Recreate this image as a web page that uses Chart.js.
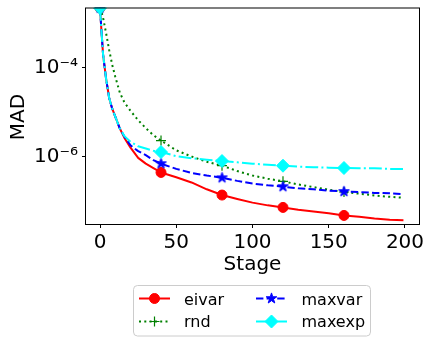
<!DOCTYPE html>
<html><head><meta charset="utf-8">
<script src="https://cdn.jsdelivr.net/npm/chart.js@4.4.0/dist/chart.umd.min.js"></script>
<style>html,body{margin:0;padding:0;background:#fff;} canvas{display:block;}</style>
</head><body>
<canvas id="c" width="432" height="343"></canvas>
<script>
// ---- data ----
const stages = [0,1,2,4,6,8,10,13,16,20,25,30,35,40,50,60,70,80,90,100,110,120,130,140,150,160,170,180,190,199];
const eivar  = [2.24e-3,6.3e-4,2.0e-4,5.6e-5,2.09e-5,1.2e-5,7.9e-6,4.27e-6,
                2.63e-6,1.58e-6,9.3e-7,6.9e-7,5.5e-7,4.37e-7,3.39e-7,2.6e-7,1.82e-7,1.35e-7,1.1e-7,9.1e-8,7.9e-8,7.1e-8,6.3e-8,5.75e-8,5.25e-8,4.68e-8,4.37e-8,3.98e-8,3.72e-8,3.63e-8];
const rnd    = [2.24e-3,1.78e-3,1.35e-3,6.0e-4,2.51e-4,1.17e-4,6.3e-5,2.75e-5,
                1.66e-5,1.07e-5,6.6e-6,4.37e-6,3.02e-6,2.29e-6,1.38e-6,1.0e-6,7.6e-7,6.2e-7,4.7e-7,3.72e-7,3.16e-7,2.75e-7,2.34e-7,2.04e-7,1.78e-7,1.58e-7,1.45e-7,1.32e-7,1.23e-7,1.17e-7];
const maxvar = [2.24e-3,6.3e-4,2.0e-4,5.6e-5,2.09e-5,1.2e-5,7.9e-6,4.27e-6,
                2.82e-6,1.78e-6,1.32e-6,1.07e-6,8.3e-7,6.9e-7,5.25e-7,4.27e-7,3.72e-7,3.31e-7,2.82e-7,2.45e-7,2.24e-7,2.09e-7,1.91e-7,1.82e-7,1.7e-7,1.62e-7,1.58e-7,1.51e-7,1.48e-7,1.41e-7];
const maxexp = [2.24e-3,6.3e-4,2.0e-4,5.6e-5,2.09e-5,1.2e-5,7.9e-6,4.27e-6,
                2.88e-6,2.14e-6,1.7e-6,1.51e-6,1.35e-6,1.26e-6,1.02e-6,9.1e-7,8.5e-7,7.9e-7,7.4e-7,6.9e-7,6.5e-7,6.2e-7,5.9e-7,5.75e-7,5.6e-7,5.5e-7,5.4e-7,5.4e-7,5.25e-7,5.25e-7];
const markerStages = [0,40,80,120,160];
const seriesNames = ['eivar','rnd','maxvar','maxexp'];
const xTickValues = [0,50,100,150,200];
const yTickValues = [1e-6,1e-4];
const yTickLabels = ['10\u207B\u2076','10\u207B\u2074'];
const xTitle = 'Stage';
const yTitle = 'MAD';

// ---- styling ----
const FONT = 'DejaVu Sans';
function makeStar(color, rOut){
  const s = Math.ceil(rOut*2+3);
  const cv = document.createElement('canvas'); cv.width = s; cv.height = s;
  const c = cv.getContext('2d');
  const cx = s/2, cy = s/2, rIn = rOut*0.381966;
  c.beginPath();
  for (let i=0;i<10;i++){
    const r = i%2===0 ? rOut : rIn;
    const a = -Math.PI/2 + i*Math.PI/5;
    const px = cx + r*Math.cos(a), py = cy + r*Math.sin(a);
    if(i===0) c.moveTo(px,py); else c.lineTo(px,py);
  }
  c.closePath(); c.fillStyle = color; c.fill();
  c.lineWidth = 1; c.strokeStyle = color; c.lineJoin='miter'; c.stroke();
  return cv;
}
const starImg = makeStar('#0000ff', 5.6);
const mk = r => ctx => (ctx.raw && markerStages.includes(ctx.raw.x)) ? r : 0;
const pts = vals => stages.map((s,i)=>({x:s,y:vals[i]}));

const styles = {
  eivar:  {color:'#ff0000', dash:[], marker:'circle', r:5},
  rnd:    {color:'#008000', dash:[2,3.3], marker:'cross', r:5},
  maxvar: {color:'#0000ff', dash:[7.4,3.2], marker:starImg, r:6},
  maxexp: {color:'#00ffff', dash:[12.8,3.2,2,3.2], marker:'rectRot', r:6.5}
};
const seriesData = {eivar, rnd, maxvar, maxexp};

const datasets = seriesNames.map((n,i)=>({
  label:n,
  data: pts(seriesData[n]),
  borderColor: styles[n].color,
  backgroundColor: styles[n].color,
  borderWidth: 2,
  borderDash: styles[n].dash,
  borderJoinStyle: 'round',
  pointStyle: styles[n].marker,
  pointRadius: mk(styles[n].r),
  pointHoverRadius: 0,
  pointBackgroundColor: styles[n].color,
  pointBorderColor: styles[n].color,
  pointBorderWidth: n==='rnd' ? 1.2 : 1,
  fill:false,
  tension:0,
  clip:0,
  order: 4-i
}));

function drawLegendMarker(c, n, x, y){
  const st = styles[n];
  c.save();
  c.fillStyle = st.color; c.strokeStyle = st.color; c.lineWidth = 1; c.setLineDash([]);
  if (st.marker === 'circle'){ c.beginPath(); c.arc(x,y,st.r,0,Math.PI*2); c.fill(); c.stroke(); }
  else if (st.marker === 'cross'){ c.lineWidth=1.2; c.beginPath(); c.moveTo(x-st.r,y); c.lineTo(x+st.r,y); c.moveTo(x,y-st.r); c.lineTo(x,y+st.r); c.stroke(); }
  else if (st.marker === 'rectRot'){ c.beginPath(); c.moveTo(x-st.r,y); c.lineTo(x,y-st.r); c.lineTo(x+st.r,y); c.lineTo(x,y+st.r); c.closePath(); c.fill(); c.stroke(); }
  else { c.drawImage(st.marker, Math.round(x - st.marker.width/2), Math.round(y - st.marker.height/2)); }
  c.restore();
}

const decor = {
  id:'decor',
  afterDraw(chart){
    const c = chart.ctx, a = chart.chartArea;
    c.save();
    // spines
    c.strokeStyle = '#000'; c.lineWidth = 1; c.setLineDash([]);
    c.strokeRect(a.left-0.5, a.top+0.5, a.right-a.left+1, a.bottom-a.top);
    // axis titles
    c.fillStyle = '#000';
    c.font = '20px "'+FONT+'"';
    c.textAlign = 'center'; c.textBaseline = 'alphabetic';
    c.fillText(xTitle, (a.left+a.right)/2, 270);
    c.save(); c.translate(23.5, 117); c.rotate(-Math.PI/2); c.fillText(yTitle, 0, 0); c.restore();
    // legend
    const bx=133.5, by=285.5, bw=237, bh=50.5, rr=4;
    c.beginPath();
    c.moveTo(bx+rr,by); c.lineTo(bx+bw-rr,by); c.quadraticCurveTo(bx+bw,by,bx+bw,by+rr);
    c.lineTo(bx+bw,by+bh-rr); c.quadraticCurveTo(bx+bw,by+bh,bx+bw-rr,by+bh);
    c.lineTo(bx+rr,by+bh); c.quadraticCurveTo(bx,by+bh,bx,by+bh-rr);
    c.lineTo(bx,by+rr); c.quadraticCurveTo(bx,by,bx+rr,by); c.closePath();
    c.fillStyle='rgba(255,255,255,0.8)'; c.fill();
    c.strokeStyle='#cccccc'; c.lineWidth=1; c.stroke();
    const cols = [{lx0:139, lx1:170, tx:184}, {lx0:256, lx1:287, tx:301.5}];
    const rows = [{ly:298.5, ty:304.5}, {ly:321.5, ty:327.3}];
    const place = [[0,0],[0,1],[1,0],[1,1]]; // eivar, rnd, maxvar, maxexp
    seriesNames.forEach((n,i)=>{
      const col = cols[place[i][0]], row = rows[place[i][1]];
      const st = styles[n];
      c.save();
      c.strokeStyle = st.color; c.lineWidth = 2; c.setLineDash(st.dash); c.lineCap='butt';
      c.beginPath(); c.moveTo(col.lx0,row.ly); c.lineTo(col.lx1,row.ly); c.stroke();
      c.restore();
      drawLegendMarker(c, n, (col.lx0+col.lx1)/2, row.ly);
      c.fillStyle='#000'; c.font='16px "'+FONT+'"'; c.textAlign='left'; c.textBaseline='alphabetic';
      c.fillText(n, col.tx, row.ty);
    });
    c.restore();
  }
};

new Chart(document.getElementById('c'), {
  type:'line',
  data:{datasets},
  options:{
    responsive:false, animation:false, events:[],
    layout:{padding:{top:7, right:13, left:0, bottom:0}},
    plugins:{legend:{display:false}, tooltip:{enabled:false}},
    scales:{
      x:{
        type:'linear', min:-9.2, max:209.2,
        afterBuildTicks: s => { s.ticks = xTickValues.map(v=>({value:v})); },
        afterFit: s => { s.height = 119; s.paddingLeft = 0; s.paddingRight = 0; },
        ticks:{font:{family:FONT, size:20}, color:'#000', padding:3, maxRotation:0, autoSkip:false},
        grid:{drawOnChartArea:false, drawTicks:true, tickLength:4, tickColor:'#000', tickWidth:1},
        border:{display:false}
      },
      y:{
        type:'logarithmic', min:3.47e-8, max:2.3e-3,
        afterBuildTicks: s => { s.ticks = yTickValues.map(v=>({value:v})); },
        afterFit: s => { s.width = 86; s.paddingTop = 0; s.paddingBottom = 0; },
        ticks:{font:{family:FONT, size:20}, color:'#000', padding:4, autoSkip:false,
          callback:(v)=>{ const i = yTickValues.findIndex(t=>Math.abs(t-v)/t<1e-6); return i>=0 ? yTickLabels[i] : ''; }},
        grid:{drawOnChartArea:false, drawTicks:true, tickLength:4, tickColor:'#000', tickWidth:1},
        border:{display:false}
      }
    }
  },
  plugins:[decor]
});
</script>
</body></html>
